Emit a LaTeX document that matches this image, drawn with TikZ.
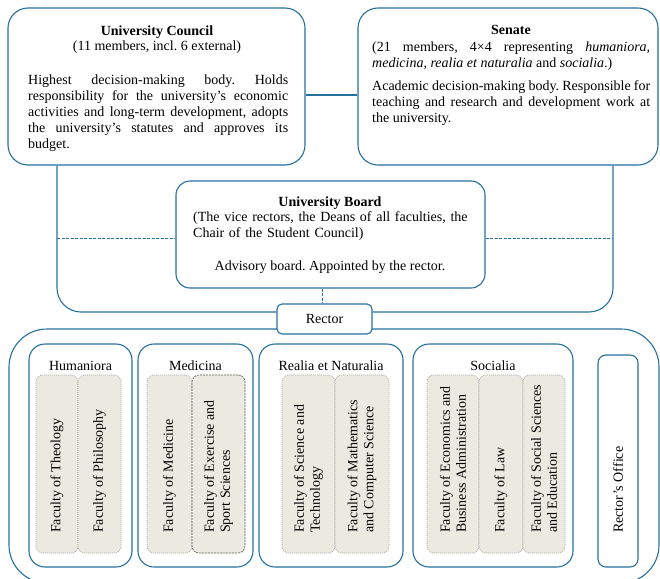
\documentclass[tikz,border=0pt]{standalone}
\usepackage{fontspec}
\setmainfont{Liberation Serif}
\usetikzlibrary{backgrounds}
\definecolor{ublue}{RGB}{38,112,158}
\definecolor{facfill}{RGB}{236,233,224}
\begin{document}
\frenchspacing
\begin{tikzpicture}[x=1pt,y=-1pt,
  every node/.style={font=\fontsize{14}{16}\selectfont, inner sep=0pt},
  bluebox/.style={draw=ublue, line width=1.1pt, fill=white, rounded corners=#1},
  frame/.style={draw=ublue, line width=1.1pt},
  dline/.style={draw=ublue, line width=1pt, dash pattern=on 3pt off 1.5pt},
  facbox/.style={fill=facfill, draw=black!35, line width=0.6pt, dash pattern=on 1pt off 1pt, rounded corners=7},
  facbox2/.style={fill=facfill, draw=black!65, line width=0.6pt, dash pattern=on 2pt off 1pt, rounded corners=7},
  factext/.style={rotate=90, anchor=west, align=left},
]
\useasboundingbox (0,0) rectangle (660,578);

% upper boxes
\node[bluebox=20, minimum width=297pt, minimum height=157pt] (council) at (156.5,86.5) {};
\node[bluebox=20, minimum width=300pt, minimum height=157pt] (senate) at (508,86.5) {};
\node[bluebox=14, minimum width=309pt, minimum height=107pt] (board) at (330.5,234.5) {};
\node[bluebox=5, minimum width=95pt, minimum height=30pt] (rector) at (324.5,319) {Rector};

\node[anchor=base] (counciltitle) at (157,35.5) {\textbf{University Council}};
\node[anchor=base] (councilsub) at (157,50.5) {(11 members, incl. 6 external)};
\node[anchor=base west, text width=260pt, align=justify] (councilbody) at (28,84)
 {Highest decision-making body. Holds\linebreak responsibility for the university's economic\linebreak activities and long-term development, adopts\linebreak the university's statutes and approves its\linebreak budget.};

\node[anchor=base] (senatetitle) at (511,35) {\textbf{Senate}};
\node[anchor=base west, text width=278pt, align=justify] (senatesub) at (372,51.5)
 {(21 members, 4×4 representing \textit{humaniora,}\linebreak \textit{medicina, realia et naturalia} and \textit{socialia}.)};
\node[anchor=base west, text width=278pt, align=justify] (senatebody) at (372,90.5)
 {Academic decision-making body. Responsible for\linebreak teaching and research and development work at\linebreak the university.};

\node[anchor=base] (boardtitle) at (330,206) {\textbf{University Board}};
\node[anchor=base west, text width=285pt, align=left] (boardsub) at (193,221.5) {(The vice rectors, the Deans of all faculties, the\\Chair of the Student Council)};
\node[anchor=base] (boardbody) at (330,270) {Advisory board. Appointed by the rector.};

% groups
\node[bluebox=16, minimum width=103pt, minimum height=223pt] (hum) at (80.5,455.5) {};
\node[bluebox=16, minimum width=115pt, minimum height=223pt] (med) at (195.5,455.5) {};
\node[bluebox=16, minimum width=144pt, minimum height=223pt] (rea) at (331,455.5) {};
\node[bluebox=16, minimum width=160pt, minimum height=223pt] (soc) at (493,455.5) {};
\node[bluebox=8, minimum width=40pt, minimum height=212pt] (office) at (618,461) {};

\node[anchor=base] (humt) at (80.5,370.5) {Humaniora};
\node[anchor=base] (medt) at (195.5,370.5) {Medicina};
\node[anchor=base] (reat) at (331,370.5) {Realia et Naturalia};
\node[anchor=base] (soct) at (493,370.5) {Socialia};

% faculties
\node[facbox, minimum width=42pt, minimum height=178pt] (theo) at (57,464) {};
\node[facbox, minimum width=43pt, minimum height=178pt] (phil) at (99.5,464) {};
\node[facbox, minimum width=45pt, minimum height=178pt] (medi) at (169.5,464) {};
\node[facbox2, minimum width=53pt, minimum height=178pt] (exer) at (218.5,464) {};
\node[facbox, minimum width=53pt, minimum height=178pt] (scie) at (308.5,464) {};
\node[facbox, minimum width=54pt, minimum height=178pt] (math) at (362,464) {};
\node[facbox, minimum width=52pt, minimum height=178pt] (econ) at (453,464) {};
\node[facbox, minimum width=44pt, minimum height=178pt] (law) at (501,464) {};
\node[facbox, minimum width=42pt, minimum height=178pt] (socs) at (544,464) {};

\node[factext] (theot) at (57,533) {Faculty of Theology};
\node[factext] (philt) at (99.5,533) {Faculty of Philosophy};
\node[factext] (medit) at (169.5,533) {Faculty of Medicine};
\node[factext] (exert) at (218.5,533) {Faculty of Exercise and\\Sport Sciences};
\node[factext] (sciet) at (308.5,533) {Faculty of Science and\\Technology};
\node[factext] (matht) at (362,533) {Faculty of Mathematics\\and Computer Science};
\node[factext] (econt) at (453,533) {Faculty of Economics and\\Business Administration};
\node[factext] (lawt) at (501,533) {Faculty of Law};
\node[factext] (socst) at (544,533) {Faculty of Social Sciences\\and Education};
\node[factext] (officet) at (618,533) {Rector's Office};

% connectors
\begin{scope}[on background layer]
\coordinate (dl) at (57,238);
\coordinate (dr) at (613,238);
\draw[frame] (council.east |- 0,95) -- (senate.west |- 0,95);
\draw[frame, rounded corners=24] (council.south -| dl) -- (57,312) -- (rector.west |- 0,312);
\draw[frame, rounded corners=24] (senate.south -| dr) -- (613,312) -- (rector.east |- 0,312);
\draw[dline] (dl) -- (board.west |- dl);
\draw[dline] (board.east |- dr) -- (dr);
\draw[dline] (board.south -| 322,0) -- (rector.north -| 322,0);
\draw[frame, rounded corners=38] (9,329) rectangle (659,583);
\end{scope}
\end{tikzpicture}
\end{document}
